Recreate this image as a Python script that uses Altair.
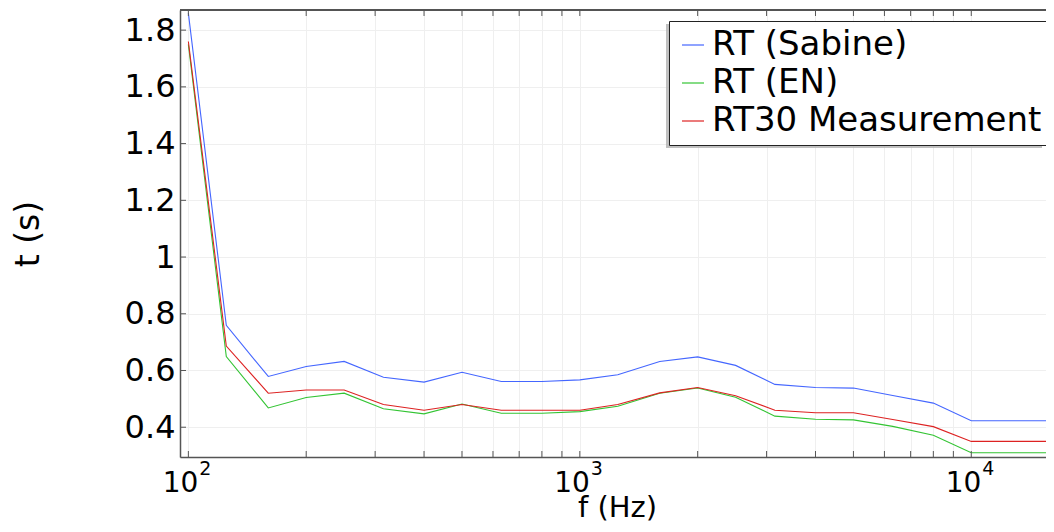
import altair as alt
import pandas as pd

# third-octave band centre frequencies (Hz)
freqs = [100, 125, 160, 200, 250, 315, 400, 500, 630, 800, 1000, 1250, 1600,
         2000, 2500, 3150, 4000, 5000, 6300, 8000, 10000, 12500, 16000]
rt_sabine = [1.86, 0.759, 0.579, 0.614, 0.632, 0.576, 0.559, 0.594, 0.561, 0.561,
             0.567, 0.585, 0.632, 0.648, 0.618, 0.551, 0.540, 0.538, 0.512, 0.485,
             0.423, 0.423, 0.423]
rt_en = [1.75, 0.649, 0.468, 0.505, 0.520, 0.465, 0.447, 0.482, 0.449, 0.449,
         0.455, 0.474, 0.520, 0.538, 0.506, 0.439, 0.428, 0.426, 0.403, 0.372,
         0.310, 0.310, 0.310]
rt30_meas = [1.76, 0.686, 0.520, 0.531, 0.531, 0.480, 0.460, 0.480, 0.460, 0.460,
             0.460, 0.480, 0.521, 0.540, 0.511, 0.460, 0.451, 0.451, 0.427, 0.402,
             0.350, 0.350, 0.350]
series_names = ["RT (Sabine)", "RT (EN)", "RT30 Measurement"]
series_colors = ["#4466ff", "#33c433", "#dd2222"]

x_ticks = [100, 200, 300, 400, 500, 600, 700, 800, 900,
           1000, 2000, 3000, 4000, 5000, 6000, 7000, 8000, 9000, 10000]
y_ticks = [0.4, 0.6, 0.8, 1.0, 1.2, 1.4, 1.6, 1.8]
decades = [100, 1000, 10000]
decade_exps = ["2", "3", "4"]

W, H = 866, 447
FONT = "DejaVu Sans"
AXC = "#555555"
GRID = "#efefef"

rows = []
for name, vals in zip(series_names, [rt_sabine, rt_en, rt30_meas]):
    for f, v in zip(freqs, vals):
        rows.append({"f": f, "t": v, "series": name, "order": series_names.index(name)})
df = pd.DataFrame(rows)

xscale = alt.Scale(type="log", domain=[95.2, 15520], nice=False)
yscale = alt.Scale(domain=[0.295, 1.871], nice=False, zero=False)

x_axis = alt.Axis(values=x_ticks, grid=True, gridColor=GRID, labels=False,
                  ticks=False, domain=True, domainColor=AXC, domainWidth=1.5,
                  title="f (Hz)", titleFont=FONT, titleFontSize=29,
                  titleFontWeight="normal", titleColor="black",
                  titleX=437, titleY=59, titleBaseline="alphabetic",
                  titleAlign="center")
y_axis = alt.Axis(values=y_ticks, grid=True, gridColor=GRID,
                  ticks=False, domain=True, domainColor=AXC, domainWidth=1.5,
                  labelExpr="datum.value == 1 ? '1' : format(datum.value, '.1f')",
                  labelFont=FONT, labelFontSize=32, labelColor="black",
                  labelPadding=5,
                  title="t (s)", titleFont=FONT, titleFontSize=33,
                  titleFontWeight="normal", titleColor="black",
                  titleAngle=270, titleX=-152, titleY=H / 2,
                  titleAlign="center", titleBaseline="middle")

lines = alt.Chart(df).mark_line(strokeWidth=1.1, clip=True).encode(
    x=alt.X("f:Q", scale=xscale, axis=x_axis),
    y=alt.Y("t:Q", scale=yscale, axis=y_axis),
    color=alt.Color("series:N",
                    scale=alt.Scale(domain=series_names, range=series_colors),
                    legend=alt.Legend(title=None, orient="none", legendX=489, legendY=11,
                                      labelFont=FONT, labelFontSize=34, labelColor="black",
                                      labelLimit=0, symbolType="stroke", symbolSize=484,
                                      symbolStrokeWidth=1.2, labelOffset=2,
                                      rowPadding=4, padding=7,
                                      fillColor="white", strokeColor="#222222",
                                      cornerRadius=0)),
    detail="series:N",
    order="order:Q",
)

tick_df = pd.DataFrame({"f": x_ticks})
ytick_df = pd.DataFrame({"t": y_ticks})

bottom_ticks = alt.Chart(tick_df).mark_rule(color=AXC, strokeWidth=1).encode(
    x=alt.X("f:Q", scale=xscale, axis=x_axis), y=alt.value(H), y2=alt.value(H - 6))
top_ticks = alt.Chart(tick_df).mark_rule(color=AXC, strokeWidth=1).encode(
    x=alt.X("f:Q", scale=xscale, axis=x_axis), y=alt.value(0), y2=alt.value(6))
left_ticks = alt.Chart(ytick_df).mark_rule(color=AXC, strokeWidth=1).encode(
    y=alt.Y("t:Q", scale=yscale, axis=y_axis), x=alt.value(0), x2=alt.value(6))
top_border = alt.Chart(tick_df).mark_rule(color=AXC, strokeWidth=1.5).encode(
    x=alt.value(0), x2=alt.value(W), y=alt.value(0))

# soft drop shadow behind the legend box (decoration)
legend_shadow = alt.Chart(pd.DataFrame({"k": [0]})).mark_rect(
    color="#b0b0b0", opacity=0.8
).encode(x=alt.value(486), x2=alt.value(862), y=alt.value(14), y2=alt.value(138))

dec_df = pd.DataFrame({"f": decades, "base": ["10"] * 3, "exp": decade_exps})
base_text = alt.Chart(dec_df).mark_text(
    font=FONT, fontSize=28, align="right", baseline="alphabetic", dx=10, color="black"
).encode(x=alt.X("f:Q", scale=xscale, axis=x_axis), y=alt.value(H + 35), text="base:N")
exp_text = alt.Chart(dec_df).mark_text(
    font=FONT, fontSize=19, align="left", baseline="alphabetic", dx=11, color="black"
).encode(x=alt.X("f:Q", scale=xscale, axis=x_axis), y=alt.value(H + 18), text="exp:N")

chart = alt.layer(
    lines, bottom_ticks, top_ticks, left_ticks, top_border, legend_shadow,
    base_text, exp_text
).properties(
    width=W, height=H,
    padding={"left": 172, "top": 2, "right": 0, "bottom": 66},
    autosize="none",
).configure_view(stroke=None).configure(font=FONT)

chart.save("out.html", embed_options={"renderer": "svg", "actions": False})
